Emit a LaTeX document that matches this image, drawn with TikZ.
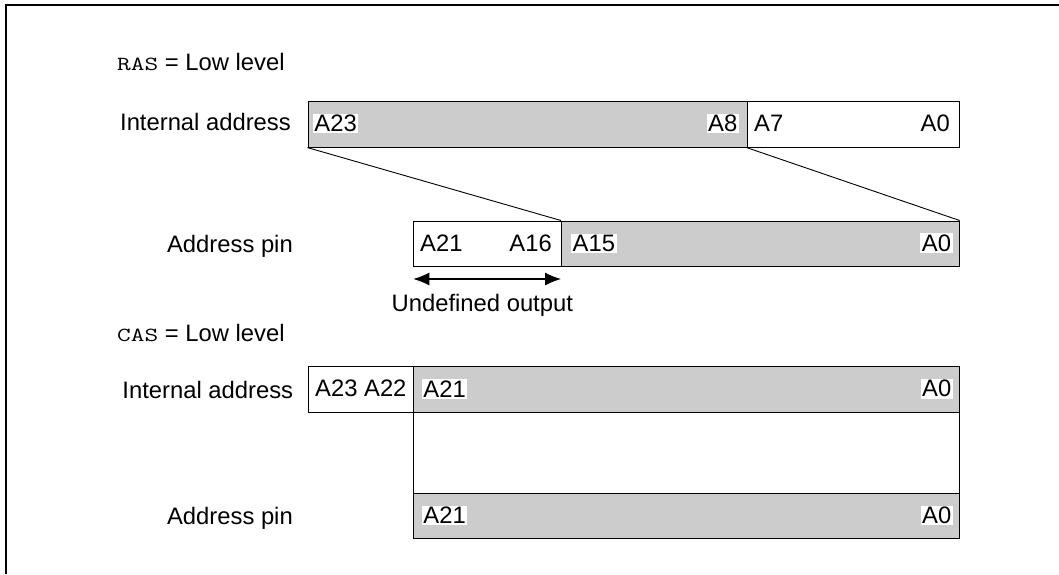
\documentclass[tikz,border=0pt]{standalone}
\usepackage{fontspec}
\setmainfont{Liberation Sans}
\usetikzlibrary{arrows.meta}
\definecolor{segGray}{HTML}{CCCCCC}
\newcommand{\signame}[1]{\scalebox{1.33}[1]{\fontsize{20pt}{24pt}\selectfont\ttfamily #1}}
\tikzset{
  seg/.style={draw=black, line width=1.1pt, rectangle, inner sep=0pt, minimum height=45.5pt, anchor=north west},
  grayseg/.style={seg, fill=segGray},
  whiteseg/.style={seg, fill=white},
  bitlbl/.style={fill=white, inner sep=1.5pt, font=\fontsize{23.8pt}{28pt}\selectfont},
  txt/.style={inner sep=0pt, font=\fontsize{23.8pt}{28pt}\selectfont},
  conn/.style={draw=black, line width=0.9pt},
}
\begin{document}
\begin{tikzpicture}[x=1pt,y=-1pt]
\useasboundingbox (0,0) rectangle (1059,574);
% frame (top and left edges)
\coordinate (fa) at (6,574);
\coordinate (fb) at (6,5);
\coordinate (fc) at (1059,5);
\draw[line width=1.5pt] (fa) -- (fb) -- (fc);

% headings
\node[txt, anchor=base west] (ras) at (117,70) {\signame{RAS} = Low level};
\node[txt, anchor=base west] (cas) at (117,341.5) {\signame{CAS} = Low level};

% row 1: internal address (RAS)
\node[grayseg, minimum width=439.2pt] (r1a) at (307.5,101) {};
\node[whiteseg, minimum width=211.8pt] (r1b) at (746.7,101) {};
\node[txt, anchor=base east] (l1) at (291,130.5) {Internal address};
\node[bitlbl, anchor=west] (t1a) at (312.7,123.5) {A23};
\node[bitlbl, anchor=east] (t1b) at (739,123.5) {A8};
\node[bitlbl, anchor=west] (t1c) at (752.5,123.5) {A7};
\node[bitlbl, anchor=east] (t1d) at (951.5,123.5) {A0};

% row 2: address pin (RAS)
\node[whiteseg, minimum width=147.7pt] (r2a) at (413.3,220.5) {};
\node[grayseg, minimum width=397.5pt] (r2b) at (561,220.5) {};
\node[txt, anchor=base east] (l2) at (293,252.5) {Address pin};
\node[bitlbl, anchor=west] (t2a) at (418.5,243.3) {A21};
\node[bitlbl, anchor=east] (t2b) at (553.5,243.3) {A16};
\node[bitlbl, anchor=west] (t2c) at (571,243.3) {A15};
\node[bitlbl, anchor=east] (t2d) at (952.7,243.3) {A0};

% mapping lines
\draw[conn] (r1a.south west) -- (r2b.north west);
\draw[conn] (r1b.south west) -- (r2b.north east);

% undefined output arrow
\coordinate (ua) at (413.3,279);
\coordinate (ub) at (561,279);
\draw[line width=1.1pt, {Latex[length=16pt,width=13pt]}-{Latex[length=16pt,width=13pt]}] (ua) -- (ub);
\node[txt, anchor=base west] (und) at (391.5,311.5) {Undefined output};

% row 3: internal address (CAS)
\node[whiteseg, minimum width=105.6pt] (r3a) at (307.7,366) {};
\node[grayseg, minimum width=545.2pt] (r3b) at (413.3,366) {};
\node[txt, anchor=base east] (l3) at (293.3,398) {Internal address};
\node[bitlbl, anchor=west] (t3a) at (313.5,388.7) {A23 A22};
\node[bitlbl, anchor=west] (t3b) at (421.7,388.7) {A21};
\node[bitlbl, anchor=east] (t3c) at (953,388.7) {A0};

% connecting region
\node[whiteseg, minimum width=545.2pt, minimum height=81pt] (mid) at (413.3,411.5) {};

% row 4: address pin (CAS)
\node[grayseg, minimum width=545.2pt] (r4a) at (413.3,492.7) {};
\node[txt, anchor=base east] (l4) at (293,524.5) {Address pin};
\node[bitlbl, anchor=west] (t4a) at (421.7,515.5) {A21};
\node[bitlbl, anchor=east] (t4b) at (953,515.5) {A0};
\end{tikzpicture}
\end{document}
